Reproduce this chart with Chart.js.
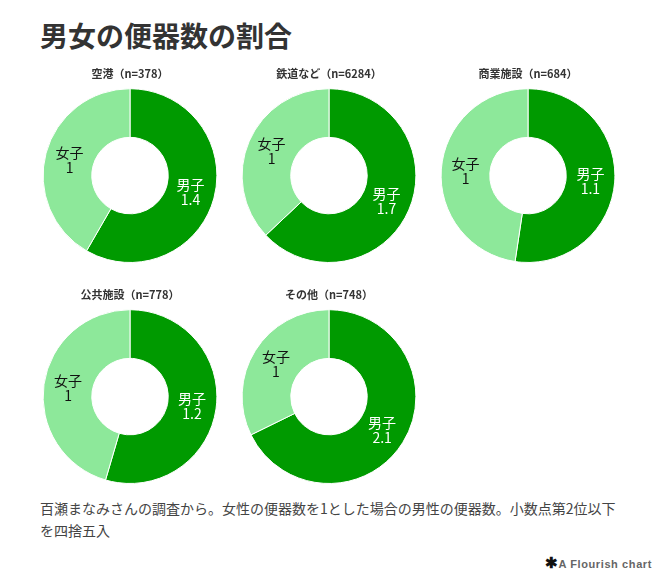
<!DOCTYPE html>
<html lang="ja">
<head>
    <meta charset="UTF-8">
    <title>男女の便器数の割合</title>
    <script src="https://cdn.jsdelivr.net/npm/chart.js@4/dist/chart.umd.min.js"></script>
    <style>
        body {
            margin: 0;
            background: #fff;
            font-family: "Noto Sans CJK JP", "Noto Sans", sans-serif;
            color: #333;
        }
        .page {
            position: relative;
            width: 666px;
            height: 580px;
        }
        h1 {
            position: absolute;
            left: 40px;
            top: 15px;
            margin: 0;
            font-size: 28px;
            font-weight: bold;
            color: #333;
        }
        .donut {
            position: absolute;
            width: 198px;
            height: 200px;
        }
        .note {
            position: absolute;
            left: 40px;
            top: 497px;
            width: 582px;
            font-size: 14px;
            line-height: 22px;
            color: #444;
        }
        .credit {
            position: absolute;
            right: 14px;
            top: 554px;
            font-family: "Liberation Sans", Arial, sans-serif;
            font-size: 11px;
            font-weight: bold;
            letter-spacing: 0.6px;
            color: #666;
        }
    </style>
</head>
<body>
    <div class="page">
        <h1>男女の便器数の割合</h1>
        <div class="donut" style="left:31px; top:63px;"><canvas id="c0"></canvas></div>
        <div class="donut" style="left:230px; top:63px;"><canvas id="c1"></canvas></div>
        <div class="donut" style="left:429px; top:63px;"><canvas id="c2"></canvas></div>
        <div class="donut" style="left:31px; top:284px;"><canvas id="c3"></canvas></div>
        <div class="donut" style="left:230px; top:284px;"><canvas id="c4"></canvas></div>
        <div class="note">百瀬まなみさんの調査から。女性の便器数を1とした場合の男性の便器数。小数点第2位以下を四捨五入</div>
        <div class="credit"><span style="color:#111;font-size:15px;">✱</span>A Flourish chart</div>
    </div>
    <script>
        // data
        var places = ['空港', '鉄道など', '商業施設', '公共施設', 'その他'];
        var sampleSizes = [378, 6284, 684, 778, 748];
        var segmentNames = ['男子', '女子'];
        var maleValues = [1.4, 1.7, 1.1, 1.2, 2.1];
        var femaleValues = [1, 1, 1, 1, 1];

        var colors = ['#009a00', '#8de89a'];
        var labelColors = ['#ffffff', '#111111'];

        // writes name + value in the middle of each slice
        var sliceLabels = {
            id: 'sliceLabels',
            afterDatasetsDraw: function (chart) {
                var ctx = chart.ctx;
                var meta = chart.getDatasetMeta(0);
                var ds = chart.data.datasets[0];
                ctx.save();
                ctx.textAlign = 'center';
                ctx.textBaseline = 'middle';
                ctx.font = '14px "Noto Sans CJK JP", sans-serif';
                meta.data.forEach(function (arc, i) {
                    var p = arc.tooltipPosition();
                    ctx.fillStyle = labelColors[i];
                    ctx.fillText(chart.data.labels[i], p.x, p.y - 7);
                    ctx.fillText(String(ds.data[i]), p.x, p.y + 8);
                });
                ctx.restore();
            }
        };

        places.forEach(function (place, i) {
            new Chart(document.getElementById('c' + i), {
                type: 'doughnut',
                data: {
                    labels: segmentNames,
                    datasets: [{
                        data: [maleValues[i], femaleValues[i]],
                        backgroundColor: colors,
                        borderColor: '#ffffff',
                        borderWidth: 1
                    }]
                },
                options: {
                    responsive: true,
                    maintainAspectRatio: false,
                    animation: false,
                    cutout: '44%',
                    layout: { padding: 0 },
                    plugins: {
                        legend: { display: false },
                        tooltip: { enabled: false },
                        title: {
                            display: true,
                            text: place + '（n=' + sampleSizes[i] + '）',
                            color: '#333',
                            font: { size: 11, weight: 'bold', family: '"Noto Sans CJK JP", sans-serif' },
                            padding: { top: 4, bottom: 8 }
                        }
                    }
                },
                plugins: [sliceLabels]
            });
        });
    </script>
</body>
</html>
